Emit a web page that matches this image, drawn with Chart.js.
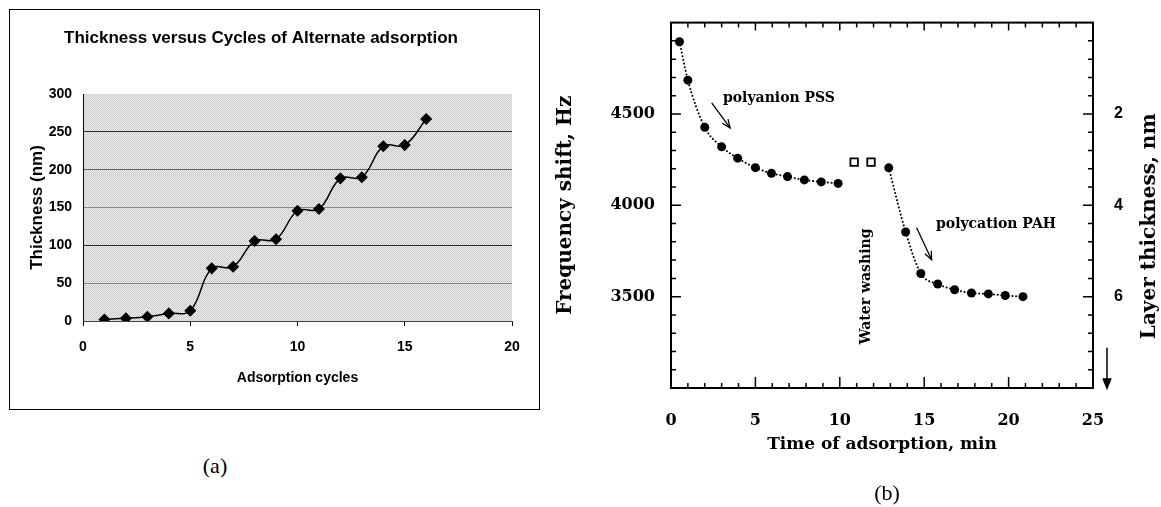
<!DOCTYPE html>
<html>
<head>
<meta charset="utf-8">
<script src="https://cdn.jsdelivr.net/npm/chart.js@4.4.1/dist/chart.umd.min.js"></script>
<style>
  body { margin: 0; background: #fff; width: 1161px; height: 507px; position: relative; overflow: hidden; }
  #chartA { position: absolute; left: 10px; top: 10px; }
  #frameA { position: absolute; left: 9px; top: 9px; width: 529px; height: 399px; border: 1.5px solid #000; pointer-events: none; }
  #chartB { position: absolute; left: 540px; top: 0; }
  .tag { position: absolute; font: 22px "Liberation Serif", serif; color: #000; transform: translate(-50%, -50%); }
</style>
</head>
<body>
<canvas id="chartA" width="530" height="400"></canvas>
<div id="frameA"></div>
<canvas id="chartB" width="621" height="507"></canvas>
<div class="tag" style="left:215px; top:466px">(a)</div>
<div class="tag" style="left:887px; top:493px">(b)</div>
<script>
// (a) thickness vs adsorption cycles
const cycles = [1, 2, 3, 4, 5, 6, 7, 8, 9, 10, 11, 12, 13, 14, 15, 16]
const thickness = [2, 3.5, 5.7, 10, 13.6, 69.6, 71.7, 105.7, 108, 145.7, 148, 188.5, 190, 231, 232.5, 267]
const cycleTicks = [0, 5, 10, 15, 20]
const thicknessTicks = [0, 50, 100, 150, 200, 250, 300]

// (b) frequency shift vs time of adsorption
const pssTime = [0.5, 1, 2, 3, 3.95, 5, 5.95, 6.9, 7.9, 8.9, 9.9]
const pssFreq = [4895, 4685, 4427, 4320, 4258, 4206, 4175, 4157, 4139, 4128, 4120]
const washTime = [10.85, 11.85]
const washFreq = [4236, 4236]
const pahTime = [12.9, 13.9, 14.8, 15.8, 16.8, 17.8, 18.8, 19.8, 20.85]
const pahFreq = [4205, 3854, 3627, 3569, 3538, 3520, 3515, 3506, 3500]
const timeTicks = [0, 5, 10, 15, 20, 25]
const freqTicks = [3500, 4000, 4500]
const layerTicks = [2, 4, 6]

const toPoints = (xs, ys) => xs.map((x, i) => ({ x, y: ys[i] }))
const fixedTicks = (values) => (scale) => { scale.ticks = values.map((value) => ({ value })) }

const sans = 'Liberation Sans'
const serif = 'DejaVu Serif'

// stippled grey plot background
const stipple = document.createElement('canvas')
stipple.width = 2
stipple.height = 2
const sctx = stipple.getContext('2d')
sctx.fillStyle = '#f0f0f0'
sctx.fillRect(0, 0, 2, 2)
sctx.fillStyle = '#c8c8c8'
sctx.fillRect(0, 0, 1, 1)
sctx.fillRect(1, 1, 1, 1)

const greyArea = {
  id: 'greyArea',
  beforeDraw(chart) {
    const { ctx, chartArea: a } = chart
    ctx.save()
    ctx.fillStyle = ctx.createPattern(stipple, 'repeat')
    ctx.fillRect(a.left, a.top, a.right - a.left, a.bottom - a.top)
    ctx.restore()
  },
}

const gridShade = { 50: '#8a8a8a', 100: '#2a2a2a', 150: '#8a8a8a', 200: '#666', 250: '#2a2a2a' }

new Chart(document.getElementById('chartA'), {
  type: 'line',
  data: {
    datasets: [
      {
        data: toPoints(cycles, thickness),
        borderColor: '#000',
        borderWidth: 1.5,
        tension: 0.4,
        pointStyle: 'rectRot',
        pointRadius: 5,
        pointBackgroundColor: '#000',
        pointBorderColor: '#000',
      },
    ],
  },
  options: {
    responsive: false,
    animation: false,
    layout: { padding: { left: 0, top: 0, right: 28, bottom: 0 } },
    plugins: {
      legend: { display: false },
      tooltip: { enabled: false },
      title: {
        display: true,
        text: 'Thickness versus Cycles of Alternate adsorption',
        color: '#000',
        font: { family: sans, size: 17, weight: 'bold' },
        padding: { top: 17.8, bottom: 45.8 },
      },
    },
    scales: {
      x: {
        type: 'linear',
        min: 0,
        max: 20,
        afterBuildTicks: fixedTicks(cycleTicks),
        afterFit: (s) => { s.height = 89 },
        grid: { drawOnChartArea: false, drawTicks: true, tickLength: 5, color: '#000' },
        border: { color: '#444', width: 1 },
        ticks: { color: '#000', font: { family: sans, size: 14, weight: 'bold' }, padding: 12.6 },
        title: {
          display: true,
          text: 'Adsorption cycles',
          color: '#000',
          font: { family: sans, size: 14, weight: 'bold' },
          padding: { top: 0, bottom: 23.6 },
        },
      },
      y: {
        min: 0,
        max: 300,
        afterBuildTicks: fixedTicks(thicknessTicks),
        afterFit: (s) => { s.width = 73 },
        grid: {
          drawTicks: false,
          color: (c) => gridShade[c.tick.value] || 'rgba(0,0,0,0)',
        },
        border: { color: '#000', width: 1 },
        ticks: { color: '#000', font: { family: sans, size: 14, weight: 'bold' }, padding: 11 },
        title: {
          display: true,
          text: 'Thickness (nm)',
          color: '#000',
          font: { family: sans, size: 17, weight: 'bold' },
          padding: { top: 16.8, bottom: 0 },
        },
      },
    },
  },
  plugins: [greyArea],
})

function arrow(ctx, x1, y1, x2, y2, filled) {
  const ang = Math.atan2(y2 - y1, x2 - x1)
  const head = filled ? 13 : 9
  const spread = filled ? 0.38 : 0.4
  ctx.beginPath()
  ctx.moveTo(x1, y1)
  ctx.lineTo(x2 - (filled ? Math.cos(ang) * head * 0.8 : 0), y2 - (filled ? Math.sin(ang) * head * 0.8 : 0))
  ctx.stroke()
  ctx.beginPath()
  ctx.moveTo(x2 - head * Math.cos(ang - spread), y2 - head * Math.sin(ang - spread))
  ctx.lineTo(x2, y2)
  ctx.lineTo(x2 - head * Math.cos(ang + spread), y2 - head * Math.sin(ang + spread))
  if (filled) {
    ctx.closePath()
    ctx.fill()
  } else {
    ctx.stroke()
  }
}

const frameB = {
  id: 'frameB',
  afterDraw(chart) {
    const { ctx, chartArea: a, scales } = chart
    const { x, y, y2 } = scales
    ctx.save()
    ctx.strokeStyle = '#000'
    ctx.fillStyle = '#000'
    ctx.lineWidth = 2
    ctx.strokeRect(a.left, a.top, a.right - a.left, a.bottom - a.top)

    // inward tick marks on all four sides
    ctx.lineWidth = 1.5
    ctx.beginPath()
    for (let t = 1; t < 25; t++) {
      const px = x.getPixelForValue(t)
      const major = t % 5 === 0
      ctx.moveTo(px, a.bottom)
      ctx.lineTo(px, a.bottom - (major ? 11 : 5))
      ctx.moveTo(px, a.top)
      ctx.lineTo(px, a.top + (major ? 8 : 5))
    }
    for (let f = 3100; f < 5000; f += 100) {
      const py = y.getPixelForValue(f)
      ctx.moveTo(a.left, py)
      ctx.lineTo(a.left + (f % 500 === 0 ? 10 : 5), py)
    }
    for (let k = 1; k < 20; k++) {
      const d = k * 0.4
      const py = y2.getPixelForValue(d)
      ctx.moveTo(a.right, py)
      ctx.lineTo(a.right - (k % 5 === 0 ? 10 : 5), py)
    }
    ctx.stroke()

    // annotations
    ctx.font = `bold 14px "${serif}"`
    ctx.textBaseline = 'middle'
    ctx.textAlign = 'left'
    ctx.fillText('polyanion PSS', x.getPixelForValue(3.08), y.getPixelForValue(4583))
    ctx.fillText('polycation PAH', x.getPixelForValue(15.7), y.getPixelForValue(3898))
    ctx.lineWidth = 1.3
    arrow(ctx, x.getPixelForValue(2.41), y.getPixelForValue(4561), x.getPixelForValue(3.5), y.getPixelForValue(4424), false)
    arrow(ctx, x.getPixelForValue(14.55), y.getPixelForValue(3877), x.getPixelForValue(15.44), y.getPixelForValue(3702), false)

    ctx.save()
    ctx.translate(x.getPixelForValue(11.6), y.getPixelForValue(3556))
    ctx.rotate(-Math.PI / 2)
    ctx.textAlign = 'center'
    ctx.fillText('Water washing', 0, 0)
    ctx.restore()

    // right axis title reads bottom to top
    ctx.save()
    ctx.font = `bold 20px "${serif}"`
    ctx.translate(y2.right - 11, (a.top + a.bottom) / 2 + 21)
    ctx.rotate(-Math.PI / 2)
    ctx.textAlign = 'center'
    ctx.fillText('Layer thickness, nm', 0, 0)
    ctx.restore()

    // direction of increasing thickness
    const ax = y2.left + 14
    ctx.lineWidth = 1.5
    arrow(ctx, ax, y2.getPixelForValue(7.12), ax, y2.getPixelForValue(8.05), true)
    ctx.restore()
  },
}

new Chart(document.getElementById('chartB'), {
  type: 'line',
  data: {
    datasets: [
      {
        data: toPoints(pssTime, pssFreq),
        borderColor: '#000',
        borderWidth: 2,
        borderDash: [0.1, 3.6],
        borderCapStyle: 'round',
        cubicInterpolationMode: 'monotone',
        pointRadius: 4.5,
        pointBackgroundColor: '#000',
        pointBorderWidth: 0,
      },
      {
        data: toPoints(washTime, washFreq),
        showLine: false,
        pointStyle: 'rect',
        pointRadius: 5.3,
        pointBackgroundColor: '#fff',
        pointBorderColor: '#000',
        pointBorderWidth: 1.8,
      },
      {
        data: toPoints(pahTime, pahFreq),
        borderColor: '#000',
        borderWidth: 2,
        borderDash: [0.1, 3.6],
        borderCapStyle: 'round',
        cubicInterpolationMode: 'monotone',
        pointRadius: 4.5,
        pointBackgroundColor: '#000',
        pointBorderWidth: 0,
      },
    ],
  },
  options: {
    responsive: false,
    animation: false,
    layout: { padding: { left: 0, top: 14, right: 0, bottom: 0 } },
    plugins: { legend: { display: false }, tooltip: { enabled: false } },
    scales: {
      x: {
        type: 'linear',
        min: 0,
        max: 25,
        afterBuildTicks: fixedTicks(timeTicks),
        afterFit: (s) => { s.height = 119 },
        grid: { display: false },
        border: { display: false },
        ticks: { color: '#000', font: { family: serif, size: 16, weight: 'bold' }, padding: 15.4 },
        title: {
          display: true,
          text: 'Time of adsorption, min',
          color: '#000',
          font: { family: serif, size: 17, weight: 'bold' },
          padding: { top: 0, bottom: 51.8 },
        },
      },
      y: {
        min: 3000,
        max: 5000,
        afterBuildTicks: fixedTicks(freqTicks),
        afterFit: (s) => { s.width = 131 },
        grid: { display: false },
        border: { display: false },
        ticks: { color: '#000', font: { family: serif, size: 16, weight: 'bold' }, padding: 8, callback: (v) => String(v) },
        title: {
          display: true,
          text: 'Frequency shift, Hz',
          color: '#000',
          font: { family: serif, size: 20, weight: 'bold' },
          padding: { top: 14, bottom: 0 },
        },
      },
      y2: {
        position: 'right',
        min: 0,
        max: 8,
        reverse: true,
        afterBuildTicks: fixedTicks(layerTicks),
        afterFit: (s) => { s.width = 68 },
        grid: { display: false },
        border: { display: false },
        ticks: { color: '#000', font: { family: sans, size: 16, weight: 'bold' }, padding: 13 },
      },
    },
  },
  plugins: [frameB],
})
</script>
</body>
</html>
